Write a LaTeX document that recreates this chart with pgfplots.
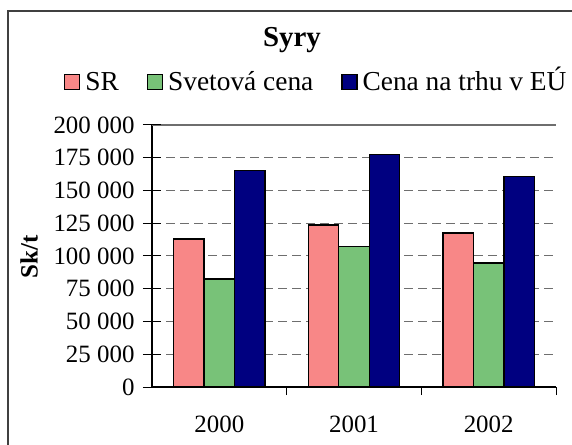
\documentclass[border=0pt]{standalone}
\usepackage{pgfplots}
\pgfplotsset{compat=1.18}
\usepackage{fontspec}
\setmainfont{Liberation Serif}
\definecolor{srred}{RGB}{248,135,135}
\definecolor{svgreen}{RGB}{120,194,120}
\definecolor{eunavy}{RGB}{0,0,128}
\definecolor{gridgray}{RGB}{110,110,110}
\pgfplotstableread{
x SR Svet EU
0 113000 82500 165000
1 123700 107000 177300
2 117600 94700 160500
}\datatable
\begin{document}
\begin{tikzpicture}
\useasboundingbox (0,0) rectangle (572bp,445bp);
\draw[line width=1.5bp, black!75] (8bp,-5bp) -- (8bp,434bp) -- (580bp,434bp);
\node[font=\bfseries\fontsize{29}{32}\selectfont, anchor=base] at (292bp,398bp) {Syry};
\begin{axis}[
  at={(152bp,58bp)}, anchor=south west,
  scale only axis, width=404bp, height=262bp,
  ybar=0pt, bar width=30.5bp,
  xmin=-0.5, xmax=2.5, ymin=0, ymax=200000,
  scaled y ticks=false,
  axis lines*=left,
  axis line style={-, line width=1.2bp, black},
  xtick={0,1,2}, xticklabels={2000,2001,2002},
  major x tick style={draw=none},
  extra x ticks={0.5,1.5,2.5}, extra x tick labels={},
  extra x tick style={tick align=outside, major tick length=8bp, major x tick style={draw=black, line width=1bp}},
  ytick={0,25000,50000,75000,100000,125000,150000,175000},
  yticklabels={0,25 000,50 000,75 000,100 000,125 000,150 000,175 000},
  extra y ticks={200000}, extra y tick labels={200 000},
  extra y tick style={major grid style={solid, gridgray, line width=1.2bp}},
  tick align=center, major tick length=18bp,
  tick style={black, line width=1bp},
  ymajorgrids,
  major grid style={gridgray, line width=1bp, dash pattern=on 9bp off 5bp},
  tick label style={font=\fontsize{25}{28}\selectfont},
  yticklabel style={anchor=east, xshift=-5bp},
  xticklabel style={anchor=base, yshift=-36bp},
  ylabel={\textbf{Sk/t}},
  ylabel style={font=\fontsize{25}{28}\selectfont, at={(axis description cs:-0.304,0.496)}, anchor=center, rotate=0},
  legend columns=3,
  legend style={draw=none, fill=none, at={(axis description cs:-0.2178,1.164)}, anchor=west,
    font=\fontsize{27.5}{30}\selectfont, inner sep=0pt,
    nodes={inner sep=0pt, outer sep=0pt, text height=21bp, text depth=4bp},
    /tikz/every odd column/.append style={column sep=5bp},
    /tikz/every even column/.append style={column sep=28bp}},
  sqlegend/.style={legend image code/.code={\draw[##1, line width=1.2bp] (0bp,-7.5bp) rectangle (15bp,7.5bp);}},
]
\addplot[fill=srred, draw=black, line width=1.3bp, sqlegend] table[x=x, y=SR] {\datatable};
\addplot[fill=svgreen, draw=black, line width=1.3bp, sqlegend] table[x=x, y=Svet] {\datatable};
\addplot[fill=eunavy, draw=black, line width=1.3bp, sqlegend] table[x=x, y=EU] {\datatable};
\legend{SR,Svetová cena,Cena na trhu v EÚ}
\end{axis}
\end{tikzpicture}
\end{document}
